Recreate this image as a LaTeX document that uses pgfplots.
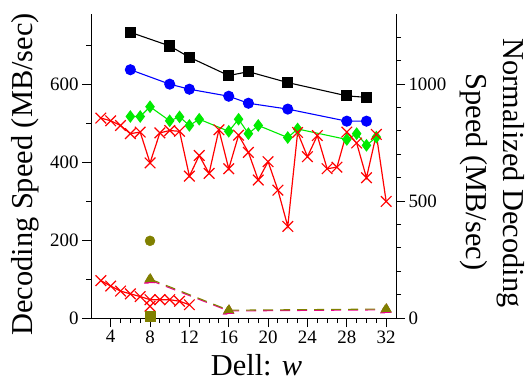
\documentclass[border=0pt]{standalone}
\usepackage{fontspec}
\setmainfont{Liberation Serif}
\usepackage{pgfplots}
\pgfplotsset{compat=1.18}
\definecolor{myolive}{RGB}{128,128,0}
\definecolor{mygreen}{RGB}{0,235,0}
\begin{document}
\begin{tikzpicture}
\pgfplotsset{
  common/.style={
    width=305bp, height=304bp, scale only axis,
    xmin=2, xmax=33,
    tick align=outside,
    major tick length=9bp, minor tick length=5bp,
    axis line style={-, line width=0.9pt},
    every tick/.style={line width=0.9pt, black},
    tick label style={font=\fontsize{19}{22}\selectfont},
    /pgf/number format/assume math mode=true,
    /pgf/number format/1000 sep={},
    clip=false,
  }
}
\begin{axis}[common,
  ymin=0, ymax=780,
  axis x line*=bottom, axis y line*=left,
  xtick={4,8,...,32}, minor x tick num=3,
  ytick={0,200,400,600}, minor ytick={100,300,500,700},
  every mark/.append style={solid},
]
\addplot[black, line width=1.1pt, mark=square*, mark size=5bp] coordinates {
(6,733)(10,698)(12,669)(16,622)(18,632)(22,604)(28,570)(30,566)};
\addplot[blue, line width=1.1pt, mark=*, mark size=5bp] coordinates {
(6,637)(10,600)(12,587)(16,569)(18,551)(22,536)(28,505)(30,505)};
\addplot[mygreen, line width=1.1pt, mark=diamond*, mark size=5.5bp] coordinates {
(6,517)(7,517)(8,542)(10,506)(11,516)(12,494)(13,510)(16,479)(17,510)(18,473)(19,494)(22,463)(23,485)(28,458)(29,473)(30,443)(31,464)};
\addplot[red, line width=1.2pt, mark=x, mark size=7.5bp] coordinates {
(3,513)(4,506)(5,494)(6,473)(7,477)(8,398)(9,475)(10,481)(11,479)(12,364)(13,417)(14,371)(15,483)(16,383)(17,469)(18,425)(19,354)(20,401)(21,328)(22,235)(23,476)(24,414)(25,468)(26,383)(27,387)(28,477)(29,449)(30,360)(31,471)(32,299)};
\addplot[red, line width=1.2pt, mark=x, mark size=7.5bp] coordinates {
(3,96)(4,82)(5,69)(6,62)(7,55)(8,47)(9,47)(10,47)(11,43)(12,34)};
\addplot[red, only marks, line width=1.2pt, mark=x, mark size=7.5bp] coordinates {(8,30)};
\addplot[magenta, line width=1.1pt, dash pattern=on 10bp off 7bp, mark=triangle*, mark size=6bp] coordinates {
(8,97)(16,18)(32,21)};
\addplot[myolive, line width=1.1pt, dash pattern=on 10bp off 7bp, mark=triangle*, mark size=5.5bp] coordinates {
(8,100)(16,20)(32,23)};
\addplot[myolive, only marks, mark=*, mark size=5bp] coordinates {(8,198)};
\addplot[myolive, only marks, mark=square*, mark size=5bp] coordinates {(8,4)};
\end{axis}
\begin{axis}[common,
  ymin=0, ymax=1300,
  axis x line=none, axis y line*=right,
  ytick={0,500,1000}, minor ytick={100,200,300,400,600,700,800,900,1100,1200},
]
\end{axis}
\node[rotate=90, anchor=base, font=\fontsize{30.5}{36}\selectfont] at (-58bp,143.5bp) {Decoding Speed (MB/sec)};
\node[rotate=-90, anchor=base, font=\fontsize{30.5}{36}\selectfont] at (412bp,145bp) {Normalized Decoding};
\node[rotate=-90, anchor=base, font=\fontsize{30.5}{36}\selectfont] at (375bp,146bp) {Speed (MB/sec)};
\node[anchor=base, font=\fontsize{30.5}{36}\selectfont] at (165.5bp,-57bp) {Dell: \textit{w}};
\pgfresetboundingbox
\useasboundingbox (-91bp,-65bp) rectangle (435bp,318bp);
\end{tikzpicture}
\end{document}
